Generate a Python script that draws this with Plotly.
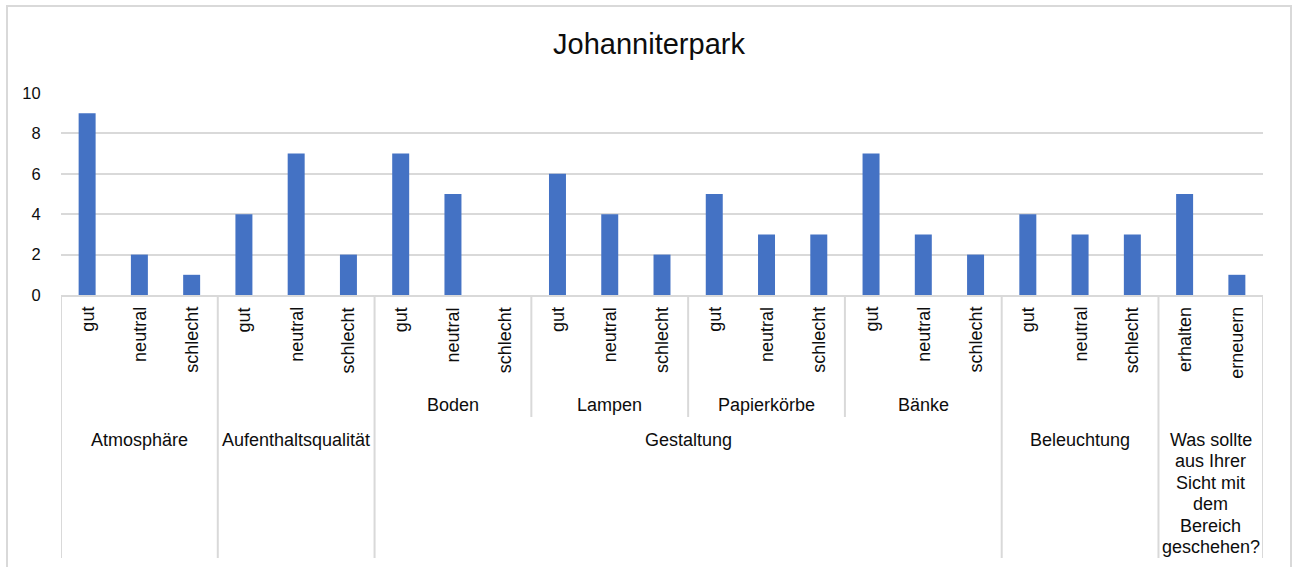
import plotly.graph_objects as go

# ---------------- data ----------------
title_text = "Johanniterpark"
level1_labels = ["gut", "neutral", "schlecht",
                 "gut", "neutral", "schlecht",
                 "gut", "neutral", "schlecht",
                 "gut", "neutral", "schlecht",
                 "gut", "neutral", "schlecht",
                 "gut", "neutral", "schlecht",
                 "gut", "neutral", "schlecht",
                 "erhalten", "erneuern"]
level2_labels = ([""] * 6 + ["Boden"] * 3 + ["Lampen"] * 3 + ["Papierkörbe"] * 3
                 + ["Bänke"] * 3 + [""] * 5)
question = "Was sollte aus Ihrer Sicht mit dem Bereich geschehen?"
level3_labels = (["Atmosphäre"] * 3 + ["Aufenthaltsqualität"] * 3 + ["Gestaltung"] * 12
                 + ["Beleuchtung"] * 3 + [question] * 2)
values = [9, 2, 1,
          4, 7, 2,
          7, 5, 0,
          6, 4, 2,
          5, 3, 3,
          7, 3, 2,
          4, 3, 3,
          5, 1]
question_lines = ["Was sollte", "aus Ihrer", "Sicht mit", "dem", "Bereich", "geschehen?"]
y_ticks = [0, 2, 4, 6, 8, 10]

# ---------------- layout constants ----------------
W, H = 1298, 567
L, R, T, B = 61, 35, 93, 272
PLOT_TOP = T
PLOT_BOT = H - B
PH = PLOT_BOT - PLOT_TOP
FONT = "Arial, 'Liberation Sans', sans-serif"
TXT = "#0d0d0d"
GRID = "#d9d9d9"
BAR = "#4472C4"


def py(ypx):
    return (PLOT_BOT - ypx) / PH


def pxx(xpx):
    return (xpx - L) / (W - L - R)


n = len(values)
xs = list(range(n))

fig = go.Figure()
fig.add_trace(go.Bar(x=xs, y=values, marker=dict(color=BAR, line=dict(width=0)),
                     hoverinfo="y"))

annotations = []
shapes = []

# rotated level-1 labels
for i, lab in enumerate(level1_labels):
    annotations.append(dict(x=i, xref="x", y=py(305), yref="paper", text=lab,
                            textangle=-90, xanchor="center", yanchor="top",
                            showarrow=False, font=dict(family=FONT, size=18, color=TXT)))


def runs(labels):
    out = []
    start = 0
    for i in range(1, len(labels) + 1):
        if i == len(labels) or labels[i] != labels[start]:
            out.append((start, i - 1, labels[start]))
            start = i
    return out


# level-2 labels
for s, e, lab in runs(level2_labels):
    if lab:
        annotations.append(dict(x=(s + e) / 2, xref="x", y=py(405), yref="paper", text=lab,
                                xanchor="center", yanchor="middle", showarrow=False,
                                font=dict(family=FONT, size=18, color=TXT)))

# level-3 labels
for s, e, lab in runs(level3_labels):
    if lab == question:
        for k, line in enumerate(question_lines):
            annotations.append(dict(x=(s + e) / 2, xref="x", y=py(440 + 21.4 * k), yref="paper",
                                    text=line, xanchor="center", yanchor="middle",
                                    showarrow=False,
                                    font=dict(family=FONT, size=18, color=TXT)))
    else:
        annotations.append(dict(x=(s + e) / 2, xref="x", y=py(440), yref="paper", text=lab,
                                xanchor="center", yanchor="middle", showarrow=False,
                                font=dict(family=FONT, size=18, color=TXT)))

# separators
l3_bounds = [-0.5] + [e + 0.5 for s, e, _ in runs(level3_labels)]
for xb in l3_bounds:
    shapes.append(dict(type="line", xref="x", yref="paper", x0=xb, x1=xb,
                       y0=py(PLOT_BOT), y1=py(558), line=dict(color=GRID, width=2)))
l2_bounds = []
for i in range(1, n):
    if level2_labels[i] != level2_labels[i - 1] and level3_labels[i] == level3_labels[i - 1]:
        l2_bounds.append(i - 0.5)
for xb in l2_bounds:
    shapes.append(dict(type="line", xref="x", yref="paper", x0=xb, x1=xb,
                       y0=py(PLOT_BOT), y1=py(417), line=dict(color=GRID, width=2)))

# outer chart frame
shapes.append(dict(type="rect", xref="paper", yref="paper",
                   x0=pxx(7), x1=pxx(1291), y0=py(600), y1=py(6),
                   line=dict(color=GRID, width=2), fillcolor="rgba(0,0,0,0)", layer="below"))

fig.update_layout(
    width=W, height=H,
    margin=dict(l=L, r=R, t=T, b=B, pad=0),
    paper_bgcolor="white", plot_bgcolor="white",
    showlegend=False,
    bargap=0.675,
    title=dict(text=title_text, x=649 / W, xanchor="center", xref="container",
               y=1 - 44 / H, yanchor="middle", yref="container",
               font=dict(family=FONT, size=29, color=TXT)),
    xaxis=dict(range=[-0.5, n - 0.5], showticklabels=False, showgrid=False, zeroline=False,
               showline=True, linecolor=GRID, linewidth=2, ticks=""),
    yaxis=dict(range=[0, 10], tickvals=y_ticks, showgrid=True, gridcolor=GRID, gridwidth=2,
               zeroline=False, showline=False, ticks="outside", ticklen=16,
               tickcolor="rgba(0,0,0,0)",
               tickfont=dict(family=FONT, size=16.5, color=TXT)),
    annotations=annotations,
    shapes=shapes,
)

fig.write_html("out.html", post_script="document.body.style.margin='0';",
               config={"displayModeBar": False})
